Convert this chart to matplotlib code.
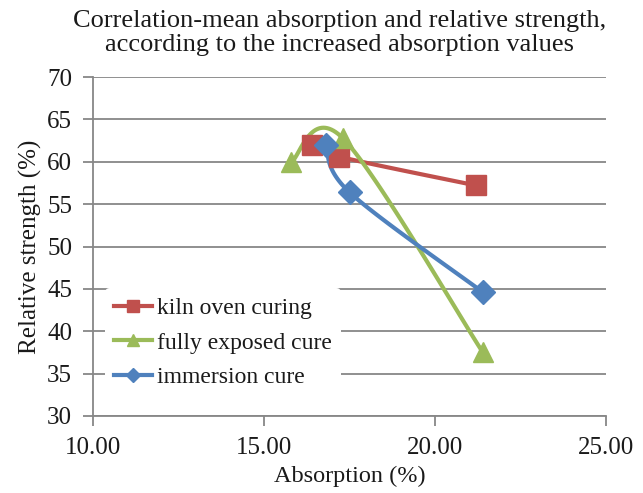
import matplotlib.pyplot as plt
import numpy as np

plt.rcParams['font.family'] = ['Liberation Serif', 'DejaVu Serif']

# absorption (%) vs relative strength (%) for each curing regime
kiln_x = [16.4, 17.2, 21.2]
kiln_y = [62.0, 60.6, 57.2]
exposed_x = [15.8, 17.3, 21.4]
exposed_y = [60.0, 62.8, 37.5]
immersion_x = [16.8, 17.5, 21.4]
immersion_y = [62.0, 56.4, 44.6]

x_ticks = [10, 15, 20, 25]
y_ticks = [30, 35, 40, 45, 50, 55, 60, 65, 70]


def smooth(xs, ys, n=40):
    # Excel style smoothed line: cubic bezier through the points (catmull-rom tangents)
    p = np.column_stack([xs, ys]).astype(float)
    p = np.vstack([p[0], p, p[-1]])
    out = []
    t = np.linspace(0, 1, n)[:, None]
    for i in range(1, len(p) - 2):
        p0, p1, p2, p3 = p[i - 1], p[i], p[i + 1], p[i + 2]
        c1 = p1 + (p2 - p0) / 6
        c2 = p2 - (p3 - p1) / 6
        seg = ((1 - t) ** 3) * p1 + 3 * ((1 - t) ** 2) * t * c1 + 3 * (1 - t) * t ** 2 * c2 + t ** 3 * p2
        out.append(seg)
    seg = np.vstack(out)
    return seg[:, 0], seg[:, 1]


fig = plt.figure(figsize=(6.43, 4.93), dpi=100)
ax = fig.add_axes([93 / 643, 77 / 493, 513 / 643, 339 / 493])

series = [
    (kiln_x, kiln_y, '#C0504D', 's', 14, 'kiln oven curing'),
    (exposed_x, exposed_y, '#9BBB59', '^', 15, 'fully exposed cure'),
    (immersion_x, immersion_y, '#4F81BD', 'D', 12, 'immersion cure'),
]
for xs, ys, c, m, ms, lab in series:
    sx, sy = smooth(xs, ys)
    ax.plot(sx, sy, color=c, lw=3, zorder=3)
    ax.plot(xs, ys, linestyle='none', marker=m, ms=ms, color=c, zorder=4)
    ax.plot([], [], color=c, lw=3, marker=m, ms=ms * 0.6, label=lab)

ax.set_xlim(10, 25)
ax.set_ylim(30, 70)
ax.set_xticks(x_ticks)
ax.set_xticklabels(['%.2f' % v for v in x_ticks])
ax.set_yticks(y_ticks)
ax.grid(axis='y', color='#878787', lw=1.3)
ax.set_axisbelow(True)
for s in ['top', 'right']:
    ax.spines[s].set_visible(False)
for s in ['left', 'bottom']:
    ax.spines[s].set_color('#878787')
    ax.spines[s].set_linewidth(1.3)
ax.tick_params(axis='both', colors='#878787', width=1.3, length=7, labelsize=18, labelcolor='#1a1a1a')
ax.tick_params(axis='y', pad=8)
ax.tick_params(axis='x', pad=8)

ax.set_xlabel('Absorption (%)', fontsize=17.5, color='#1a1a1a', labelpad=5)
ax.set_ylabel('Relative strength (%)', fontsize=18, color='#1a1a1a', labelpad=4)
fig.text(340 / 643, 1 - 33 / 493,
         'Correlation-mean absorption and relative strength,\naccording to the increased absorption values',
         fontsize=19, color='#1a1a1a', ha='center', va='center', linespacing=1.1)

leg = ax.legend(loc='lower left', bbox_to_anchor=(0.014, 0.04), frameon=True, fontsize=17,
                handlelength=1.6, handletextpad=0.2, labelspacing=0.55, borderaxespad=0.2)
leg.get_frame().set_edgecolor('none')
leg.get_frame().set_facecolor('white')
leg.get_frame().set_alpha(1)
leg.set_zorder(2)
for t in leg.get_texts():
    t.set_color('#1a1a1a')

fig.savefig('out.png')
